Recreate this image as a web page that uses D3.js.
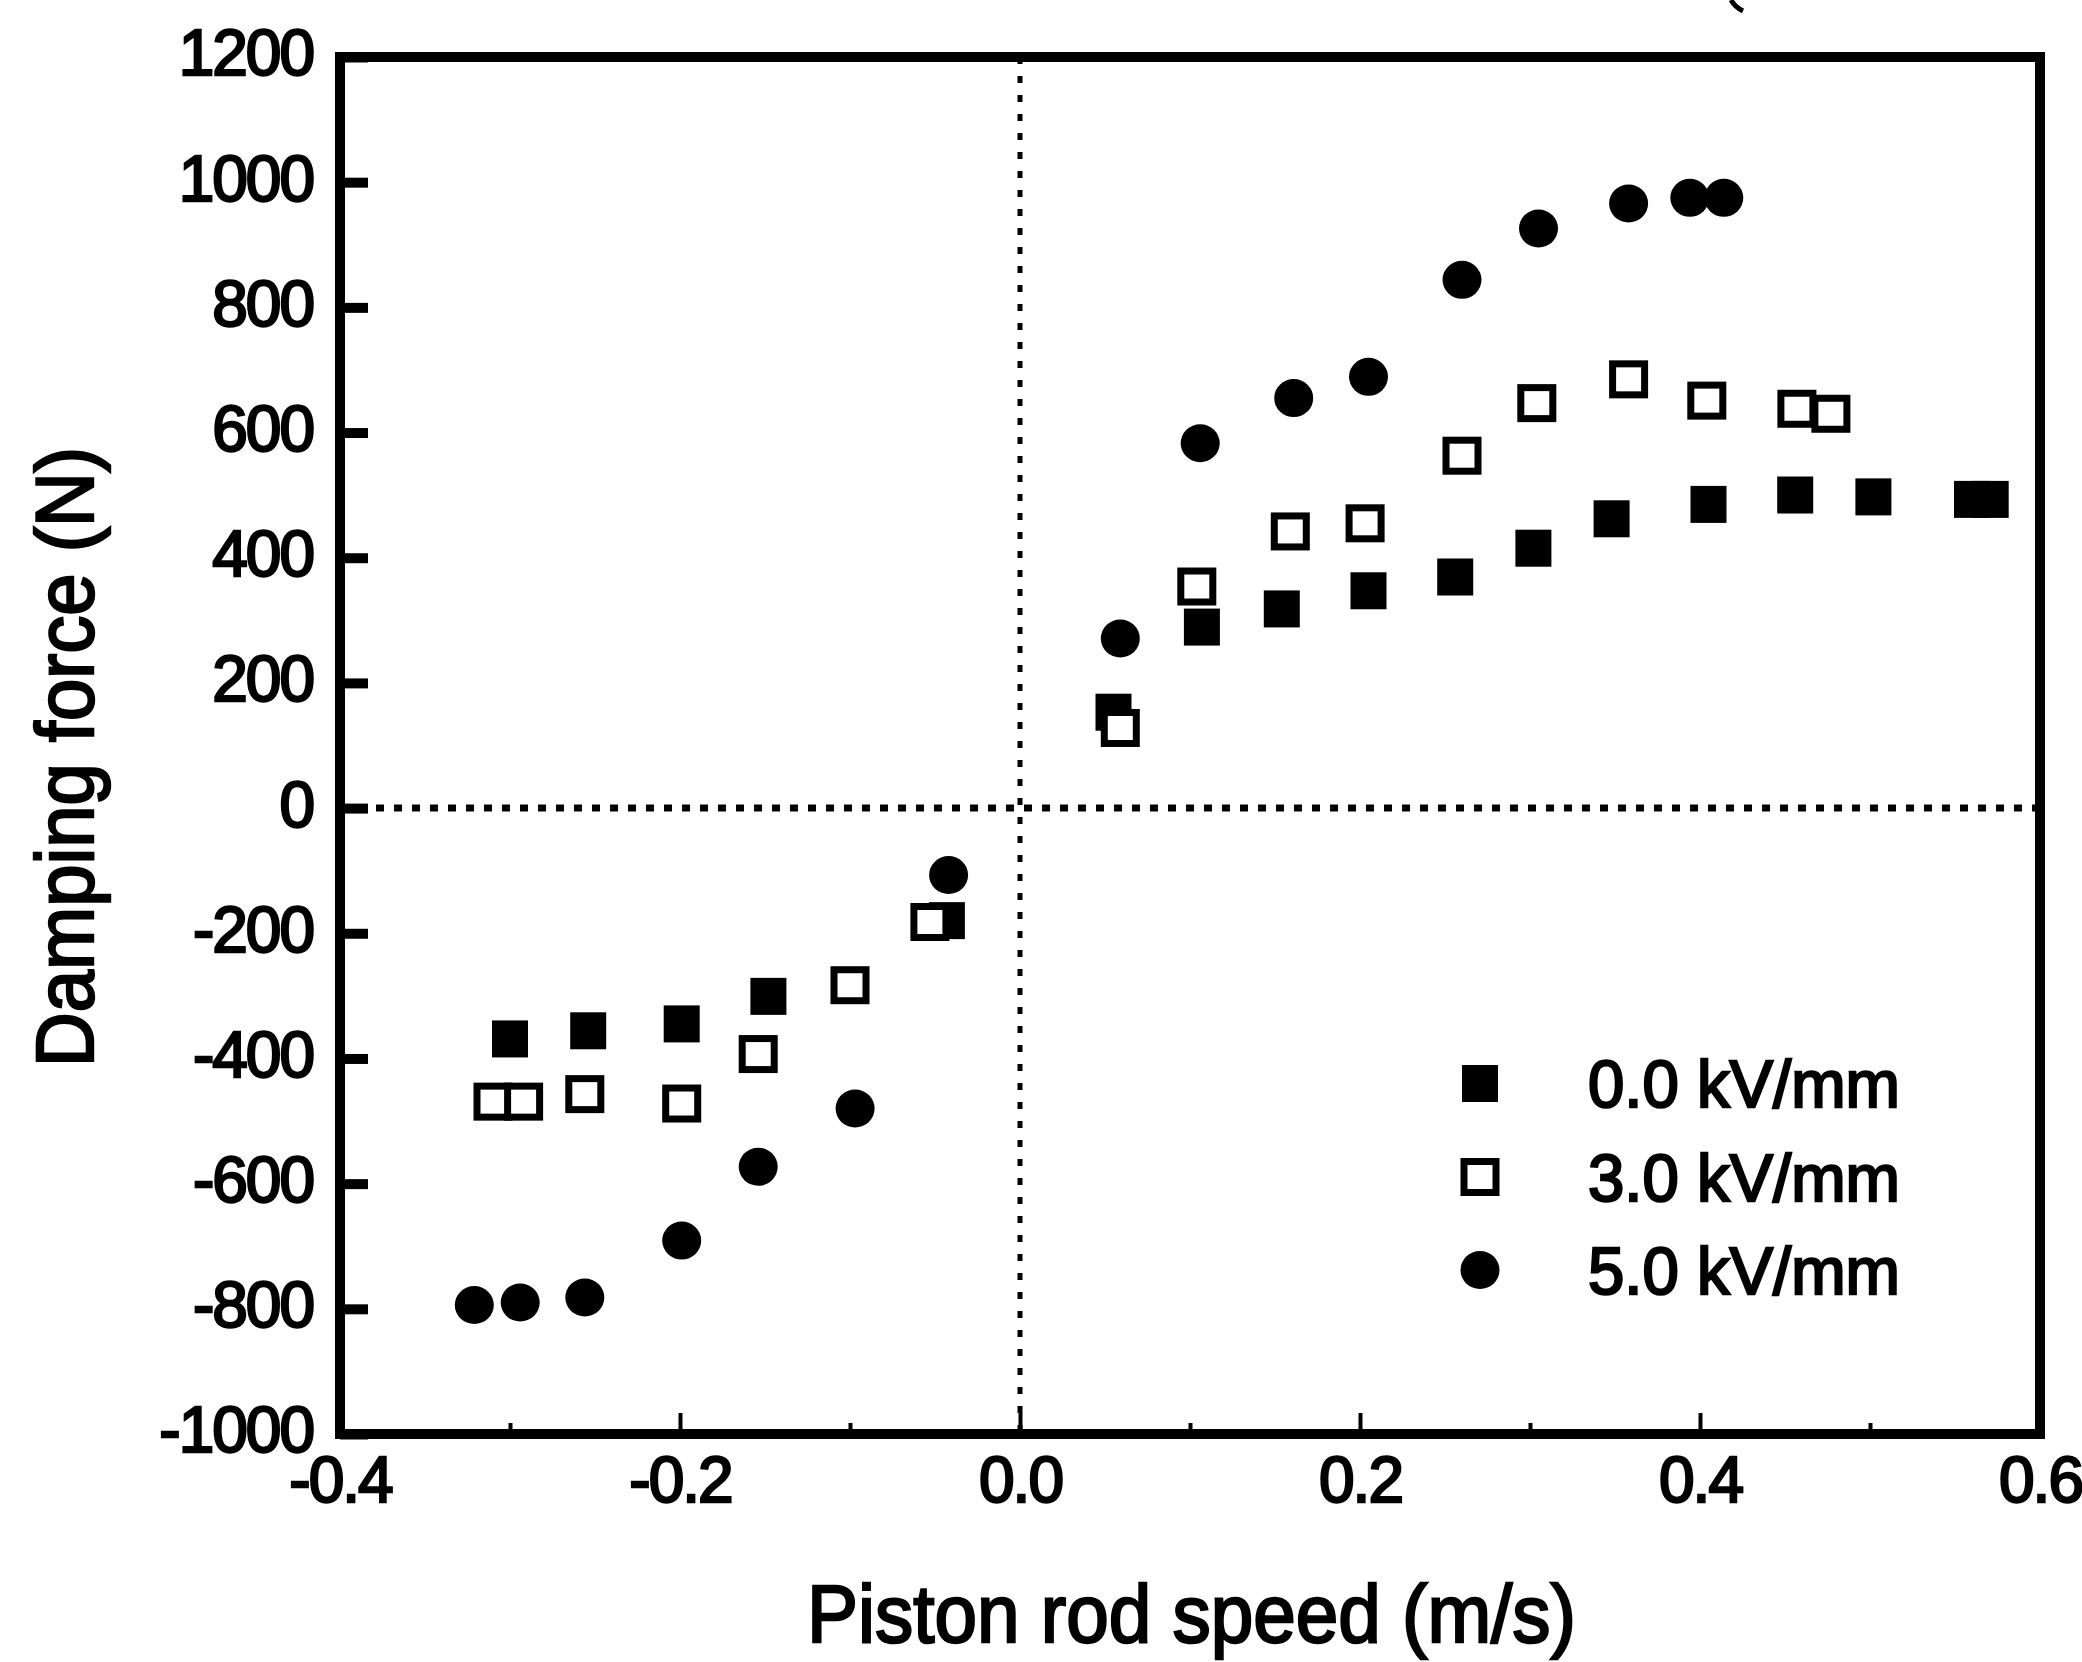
<!DOCTYPE html>
<html>
<head>
<meta charset="utf-8">
<script src="https://cdn.jsdelivr.net/npm/d3@7"></script>
<style>
	html, body { margin: 0; padding: 0; background: #fff; }
	svg text { font-family: 'Liberation Sans', Arial, sans-serif; fill: #000; }
</style>
</head>
<body>
<svg id="chart"></svg>
<script>
// piston rod speed (m/s) / damping force (N)
const zeroKVSpeed = [-0.300, -0.254, -0.199, -0.148, -0.043, 0.055, 0.107, 0.154, 0.205, 0.256, 0.302, 0.348, 0.405, 0.456, 0.502, 0.560, 0.571];
const zeroKVForce = [-368, -355, -344, -300, -179, 154, 290, 319, 348, 370, 416, 463, 486, 501, 498, 494, 494];

const threeKVSpeed = [-0.310, -0.292, -0.256, -0.199, -0.154, -0.100, -0.053, 0.059, 0.104, 0.159, 0.203, 0.260, 0.304, 0.358, 0.404, 0.457, 0.477];
const threeKVForce = [-469, -469, -457, -472, -393, -283, -182, 128, 354, 442, 455, 563, 647, 685, 651, 638, 630];

const fiveKVSpeed = [-0.321, -0.294, -0.256, -0.199, -0.154, -0.097, -0.042, 0.059, 0.106, 0.161, 0.205, 0.260, 0.305, 0.358, 0.394, 0.414];
const fiveKVForce = [-794, -790, -782, -691, -573, -480, -107, 271, 583, 655, 689, 844, 926, 966, 975, 975];

const seriesNames = ['0.0 kV/mm', '3.0 kV/mm', '5.0 kV/mm'];
const seriesShapes = ['filledSquare', 'openSquare', 'circle'];

const xTicks = [-0.4, -0.2, 0.0, 0.2, 0.4, 0.6];
const xMinorTicks = [-0.3, -0.1, 0.1, 0.3, 0.5];
const yTicks = [-1000, -800, -600, -400, -200, 0, 200, 400, 600, 800, 1000, 1200];

const xTitle = 'Piston rod speed (m/s)';
const yTitle = 'Damping force (N)';

const width = 2082;
const height = 1662;
const plot = { left: 340, right: 2040, top: 57, bottom: 1434 };

const svg = d3.select('#chart')
	.attr('width', width)
	.attr('height', height);

svg.append('rect')
	.attr('width', width).attr('height', height)
	.attr('fill', '#fff');

const x = d3.scaleLinear().domain([-0.4, 0.6]).range([plot.left, plot.right]);
const y = d3.scaleLinear().domain([-1000, 1200]).range([plot.bottom, plot.top]);

// dotted zero lines
svg.append('line')
	.attr('x1', x(0)).attr('y1', plot.top)
	.attr('x2', x(0)).attr('y2', plot.bottom)
	.attr('stroke', '#000')
	.attr('stroke-width', 5)
	.attr('stroke-dasharray', '7 12');

svg.append('line')
	.attr('x1', plot.left).attr('y1', y(0))
	.attr('x2', plot.right).attr('y2', y(0))
	.attr('stroke', '#000')
	.attr('stroke-width', 7)
	.attr('stroke-dasharray', '8 10');

// axes
const yAxis = svg.append('g')
	.attr('transform', `translate(${plot.left},0)`)
	.call(d3.axisLeft(y)
		.tickValues(yTicks)
		.tickSize(-28)
		.tickPadding(27)
		.tickFormat(d => String(d)));

const xAxis = svg.append('g')
	.attr('transform', `translate(0,${plot.bottom})`)
	.call(d3.axisBottom(x)
		.tickValues(xTicks)
		.tickSize(-21)
		.tickPadding(23)
		.tickFormat(d => d.toFixed(1)));

svg.append('g')
	.attr('transform', `translate(0,${plot.bottom})`)
	.call(d3.axisBottom(x)
		.tickValues(xMinorTicks)
		.tickSize(-11)
		.tickFormat(''))
	.call(g => g.select('.domain').remove())
	.selectAll('line').attr('stroke-width', 4);

yAxis.select('.domain').remove();
xAxis.select('.domain').remove();
yAxis.selectAll('line').attr('stroke-width', 10);
xAxis.selectAll('line').attr('stroke-width', 4);

[yAxis, xAxis].forEach(g => {
	g.selectAll('text')
		.attr('font-size', 64)
		.attr('letter-spacing', '-2px')
		.attr('stroke', '#000')
		.attr('stroke-width', 2.4)
		.attr('font-family', null);
});
yAxis.selectAll('text').attr('dy', '0.28em');

// frame
svg.append('rect')
	.attr('x', plot.left).attr('y', plot.top)
	.attr('width', plot.right - plot.left)
	.attr('height', plot.bottom - plot.top)
	.attr('fill', 'none')
	.attr('stroke', '#000')
	.attr('stroke-width', 10);

// markers
const drawMarker = (g, shape) => {
	if (shape === 'filledSquare') {
		g.append('rect')
			.attr('x', -18).attr('y', -18)
			.attr('width', 36).attr('height', 37)
			.attr('fill', '#000');
	} else if (shape === 'openSquare') {
		g.append('rect')
			.attr('x', -16).attr('y', -15.5)
			.attr('width', 32).attr('height', 31)
			.attr('fill', '#fff')
			.attr('stroke', '#000')
			.attr('stroke-width', 7);
	} else {
		g.append('ellipse')
			.attr('rx', 19.5).attr('ry', 19)
			.attr('fill', '#000');
	}
};

const series = [
	{ speed: zeroKVSpeed, force: zeroKVForce, shape: seriesShapes[0] },
	{ speed: fiveKVSpeed, force: fiveKVForce, shape: seriesShapes[2] },
	{ speed: threeKVSpeed, force: threeKVForce, shape: seriesShapes[1] }
];

series.forEach(s => {
	const pts = s.speed.map((v, i) => [v, s.force[i]]);
	svg.append('g').selectAll('g')
		.data(pts)
		.enter().append('g')
		.attr('transform', d => `translate(${x(d[0])},${y(d[1])})`)
		.each(function() { drawMarker(d3.select(this), s.shape); });
});

// legend
const legendRows = [1083, 1177, 1270];
const legend = svg.append('g');
seriesNames.forEach((name, i) => {
	const row = legend.append('g').attr('transform', `translate(0,${legendRows[i]})`);
	drawMarker(row.append('g').attr('transform', 'translate(1480,0)'), seriesShapes[i]);
	row.append('text')
		.attr('x', 1588).attr('y', 24)
		.attr('font-size', 66)
		.attr('stroke', '#000')
		.attr('stroke-width', 2.4)
		.attr('textLength', 312)
		.attr('lengthAdjust', 'spacingAndGlyphs')
		.text(name);
});

// axis titles
svg.append('text')
	.attr('x', (807 + 1576) / 2).attr('y', 1642)
	.attr('text-anchor', 'middle')
	.attr('font-size', 82)
	.attr('stroke', '#000')
	.attr('stroke-width', 2.4)
	.attr('textLength', 769)
	.attr('lengthAdjust', 'spacingAndGlyphs')
	.text(xTitle);

svg.append('text')
	.attr('transform', 'translate(93,757) rotate(-90)')
	.attr('text-anchor', 'middle')
	.attr('font-size', 82)
	.attr('stroke', '#000')
	.attr('stroke-width', 2.4)
	.attr('textLength', 620)
	.attr('lengthAdjust', 'spacingAndGlyphs')
	.text(yTitle);

// scrap of the caption above the figure, cut by the scan edge
svg.append('path')
	.attr('d', 'M1731,0 Q1735,7 1743,11')
	.attr('fill', 'none')
	.attr('stroke', '#000')
	.attr('stroke-width', 5);
</script>
</body>
</html>
